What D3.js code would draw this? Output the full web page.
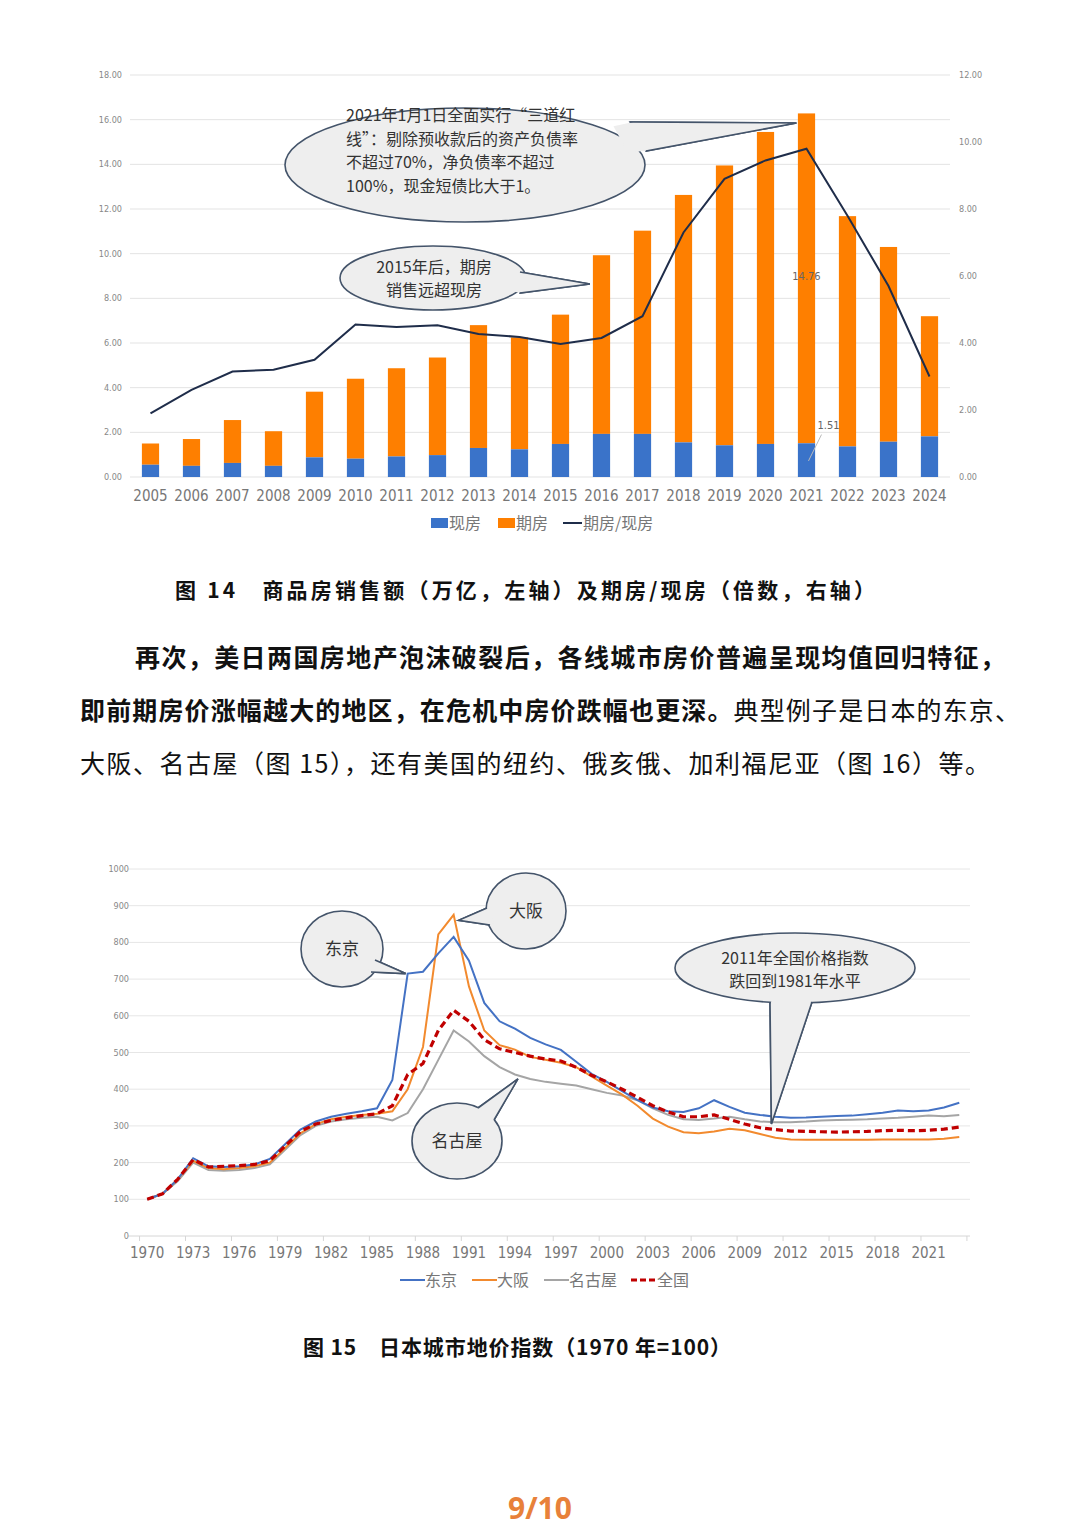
<!DOCTYPE html>
<html><head><meta charset="utf-8">
<script src="https://cdn.jsdelivr.net/npm/d3@7"></script>
<style>body{margin:0;background:#fff}svg{display:block}</style>
</head><body>
<div id="page"></div>
<script>
// chart 14
var years1 = ["2005","2006","2007","2008","2009","2010","2011","2012","2013","2014","2015","2016","2017","2018","2019","2020","2021","2022","2023","2024"];
var spot = [55,50,63,50,88,82,92,98,130,124,148,193,193,155,142,148,151,137,158,182];
var total = [150,170,255,205,382,440,487,535,680,625,727,993,1103,1263,1395,1545,1628,1168,1030,720];
var ratio = [1.9,2.6,3.15,3.2,3.5,4.55,4.48,4.53,4.27,4.18,3.97,4.15,4.8,7.3,8.9,9.45,9.8,7.8,5.7,3.0];
var leftTicks = [0,200,400,600,800,1000,1200,1400,1600,1800];
var rightTicks = [0,2,4,6,8,10,12];

// chart 15
var years2 = d3.range(1970, 2024);
var tokyo = [100,115,155,212,190,188,190,195,210,250,290,312,325,333,340,348,425,715,720,770,815,750,635,585,565,540,522,507,475,442,420,395,370,350,340,338,348,370,352,336,330,325,322,323,325,327,328,332,336,342,340,342,350,363];
var osaka = [100,115,155,205,185,182,185,190,200,240,280,305,318,325,330,333,340,400,515,822,875,680,560,520,508,488,480,472,460,435,410,385,355,320,298,283,280,285,292,288,278,268,263,262,262,262,262,262,263,263,263,263,265,270];
var nagoya = [100,115,150,200,180,178,180,185,195,235,275,300,312,318,322,325,315,335,400,480,560,530,490,460,440,428,420,415,410,400,390,383,370,348,330,318,316,320,325,318,312,310,310,312,315,316,317,318,320,322,325,328,326,330,338,348].slice(0,54);
var nation = [100,115,155,208,188,190,192,195,205,245,285,305,315,322,328,333,355,440,470,560,615,585,535,510,500,490,482,477,460,438,420,400,378,355,338,325,325,330,318,305,295,290,286,285,284,283,284,285,287,288,287,288,291,297];
var xTicks2 = d3.range(1970, 2024, 3);
var yTicks2 = d3.range(0, 1001, 100);

var W = 1080, H = 1528;
var font = "'Noto Sans CJK SC', 'Noto Sans', sans-serif";
var narrow = "'Liberation Sans Narrow', 'DejaVu Sans Condensed', sans-serif";
var svg = d3.select("#page").append("svg").attr("width", W).attr("height", H)
    .style("font-family", font);

function callout(g, cx, cy, rx, ry, tip, baseA, baseB) {
    let tri = [baseA, tip, baseB];
    g.append("path").attr("d", d3.line()(tri) + "Z")
        .attr("fill", "#eeeeee").attr("stroke", "#44546a").attr("stroke-width", 1.6);
    g.append("ellipse").attr("cx", cx).attr("cy", cy).attr("rx", rx).attr("ry", ry)
        .attr("fill", "#eeeeee").attr("stroke", "#44546a").attr("stroke-width", 1.6);
    let mA = [baseA[0] + (tip[0] - baseA[0]) * 0.02, baseA[1] + (tip[1] - baseA[1]) * 0.02];
    let mB = [baseB[0] + (tip[0] - baseB[0]) * 0.02, baseB[1] + (tip[1] - baseB[1]) * 0.02];
    let inner = [[cx + (baseA[0] - cx) * 0.9, cy + (baseA[1] - cy) * 0.9], mA, tip, mB, [cx + (baseB[0] - cx) * 0.9, cy + (baseB[1] - cy) * 0.9]];
    g.append("path").attr("d", d3.line()(inner) + "Z").attr("fill", "#eeeeee").attr("stroke", "none");
    g.append("path").attr("d", d3.line()([baseA, tip, baseB]))
        .attr("fill", "none").attr("stroke", "#44546a").attr("stroke-width", 1.6);
}
function lines(g, x, y, arr, size, anchor, lh) {
    let t = g.append("text").attr("x", x).attr("y", y).attr("font-size", size)
        .attr("fill", "#333").attr("text-anchor", anchor || "start");
    arr.forEach((s, i) => t.append("tspan").attr("x", x).attr("dy", i ? (lh || size * 1.4) : 0).text(s));
}

// ---------- chart 1 ----------
var m1 = {left: 130, right: 950, top: 75, bottom: 477};
var x1 = d3.scaleBand().domain(years1).range([m1.left, m1.right]).paddingInner(0.58).paddingOuter(0.29);
var yL = d3.scaleLinear().domain([0, 1800]).range([m1.bottom, m1.top]);
var yR = d3.scaleLinear().domain([0, 12]).range([m1.bottom, m1.top]);
var c1 = svg.append("g");

c1.selectAll(".g1").data(leftTicks).enter().append("line")
    .attr("x1", m1.left).attr("x2", m1.right).attr("y1", d => yL(d)).attr("y2", d => yL(d))
    .attr("stroke", "#e3e3e3");
c1.selectAll(".lt").data(leftTicks).enter().append("text")
    .attr("x", 122).attr("y", d => yL(d) + 3).attr("text-anchor", "end")
    .attr("font-size", 9).attr("fill", "#888").attr("font-family", narrow)
    .text(d => (d / 100).toFixed(2));
c1.selectAll(".rt").data(rightTicks).enter().append("text")
    .attr("x", 959).attr("y", d => yR(d) + 3)
    .attr("font-size", 9).attr("fill", "#888").attr("font-family", narrow)
    .text(d => d.toFixed(2));

c1.selectAll(".bo").data(years1).enter().append("rect")
    .attr("x", d => x1(d)).attr("width", x1.bandwidth())
    .attr("y", (d, i) => yL(total[i])).attr("height", (d, i) => yL(spot[i]) - yL(total[i]))
    .attr("fill", "#fe7f00");
c1.selectAll(".bb").data(years1).enter().append("rect")
    .attr("x", d => x1(d)).attr("width", x1.bandwidth())
    .attr("y", (d, i) => yL(spot[i])).attr("height", (d, i) => m1.bottom - yL(spot[i]))
    .attr("fill", "#3a73c9");

var line1 = d3.line().x((d, i) => x1(years1[i]) + x1.bandwidth() / 2).y(d => yR(d));
c1.append("path").datum(ratio).attr("d", line1).attr("fill", "none")
    .attr("stroke", "#1f2d4a").attr("stroke-width", 2);

c1.selectAll(".xl").data(years1).enter().append("text")
    .attr("x", d => x1(d) + x1.bandwidth() / 2).attr("y", 501).attr("text-anchor", "middle")
    .attr("font-size", 15).attr("fill", "#777").attr("font-family", narrow)
    .text(d => d);

var cx21 = x1("2021") + x1.bandwidth() / 2;
c1.append("text").attr("x", cx21).attr("y", yL(880)).attr("text-anchor", "middle")
    .attr("font-size", 11).attr("fill", "#666").attr("font-family", narrow).text("14.76");
c1.append("line").attr("x1", cx21 + 2).attr("y1", yL(72)).attr("x2", cx21 + 15).attr("y2", yL(190)).attr("stroke", "#bbb");
c1.append("text").attr("x", cx21 + 22).attr("y", yL(215)).attr("text-anchor", "middle")
    .attr("font-size", 11).attr("fill", "#666").attr("font-family", narrow).text("1.51");

callout(c1, 465, 165, 180, 57, [cx21 - 10, yL(1585)], [630, 122], [646, 151]);
lines(c1, 346, 121, ["2021年1月1日全面实行“三道红", "线”：剔除预收款后的资产负债率", "不超过70%，净负债率不超过", "100%，现金短债比大于1。"], 16, "start", 23.5);
callout(c1, 433, 278, 93, 32, [x1("2016") - 3, 284], [520, 272], [520, 293]);
lines(c1, 434, 273, ["2015年后，期房", "销售远超现房"], 16, "middle", 23);

var lg1 = c1.append("g");
lg1.append("rect").attr("x", 431).attr("y", 518).attr("width", 17).attr("height", 10).attr("fill", "#3a73c9");
lg1.append("text").attr("x", 449).attr("y", 529).attr("font-size", 16).attr("fill", "#777").text("现房");
lg1.append("rect").attr("x", 498).attr("y", 518).attr("width", 17).attr("height", 10).attr("fill", "#fe7f00");
lg1.append("text").attr("x", 516).attr("y", 529).attr("font-size", 16).attr("fill", "#777").text("期房");
lg1.append("line").attr("x1", 563).attr("x2", 582).attr("y1", 523).attr("y2", 523).attr("stroke", "#1f2d4a").attr("stroke-width", 2);
lg1.append("text").attr("x", 583).attr("y", 529).attr("font-size", 16).attr("fill", "#777").text("期房/现房");

svg.append("text").attr("x", 175).attr("y", 598)
    .attr("font-size", 21).attr("font-weight", "bold").attr("fill", "#111")
    .attr("textLength", 700).attr("lengthAdjust", "spacing")
    .text("图 14　商品房销售额（万亿，左轴）及期房/现房（倍数，右轴）");

// ---------- paragraph ----------
var para = svg.append("g").attr("font-size", 25).attr("fill", "#111");
para.append("text").attr("x", 135).attr("y", 667).attr("font-weight", "bold")
    .attr("textLength", 870).attr("lengthAdjust", "spacing")
    .text("再次，美日两国房地产泡沫破裂后，各线城市房价普遍呈现均值回归特征，");
var p2 = para.append("text").attr("x", 80).attr("y", 720).attr("textLength", 940).attr("lengthAdjust", "spacing");
p2.append("tspan").attr("font-weight", "bold").text("即前期房价涨幅越大的地区，在危机中房价跌幅也更深。");
p2.append("tspan").text("典型例子是日本的东京、");
para.append("text").attr("x", 80).attr("y", 773).attr("textLength", 910).attr("lengthAdjust", "spacing")
    .text("大阪、名古屋（图 15），还有美国的纽约、俄亥俄、加利福尼亚（图 16）等。");

// ---------- chart 2 ----------
var m2 = {left: 138, right: 970, top: 869, bottom: 1236};
var x2 = d3.scaleLinear().domain([1969.4, 2023.7]).range([m2.left, m2.right]);
var y2 = d3.scaleLinear().domain([0, 1000]).range([m2.bottom, m2.top]);
var c2 = svg.append("g");
c2.selectAll(".g2").data(yTicks2.slice(1)).enter().append("line")
    .attr("x1", m2.left - 10).attr("x2", m2.right).attr("y1", d => y2(d)).attr("y2", d => y2(d))
    .attr("stroke", "#e6e6e6");
c2.append("line").attr("x1", m2.left - 10).attr("x2", m2.right).attr("y1", m2.bottom).attr("y2", m2.bottom).attr("stroke", "#d6d6d6");
c2.selectAll(".yt").data(yTicks2).enter().append("text")
    .attr("x", 129).attr("y", d => y2(d) + 3).attr("text-anchor", "end")
    .attr("font-size", 9).attr("fill", "#888").attr("font-family", narrow).text(d => d);
c2.selectAll(".xt").data(xTicks2).enter().append("text")
    .attr("x", d => x2(d)).attr("y", 1258).attr("text-anchor", "middle")
    .attr("font-size", 15).attr("fill", "#777").attr("font-family", narrow).text(d => d);
c2.selectAll(".xk").data(d3.range(1969.5, 2024, 3)).enter().append("line")
    .attr("x1", d => x2(d)).attr("x2", d => x2(d)).attr("y1", m2.bottom).attr("y2", m2.bottom + 5).attr("stroke", "#d6d6d6");

var line2 = d3.line().x((d, i) => x2(years2[i])).y(d => y2(d));
[[nagoya, "#a5a5a5", 2, null], [osaka, "#f28a2e", 2, null], [tokyo, "#4472c4", 2, null], [nation, "#c00000", 3.2, "7,4"]]
    .forEach(s => {
        c2.append("path").datum(s[0]).attr("d", line2).attr("fill", "none")
            .attr("stroke", s[1]).attr("stroke-width", s[2]).attr("stroke-dasharray", s[3]);
    });

callout(c2, 342, 949, 41, 38, [x2(1987) - 2, y2(715)], [375, 960], [371, 972]);
lines(c2, 342, 955, ["东京"], 17, "middle");
callout(c2, 526, 911, 40, 38, [x2(1990) + 5, y2(860)], [487, 908], [490, 925]);
lines(c2, 526, 917, ["大阪"], 17, "middle");
callout(c2, 457, 1141, 45, 38, [x2(1994) + 3, y2(428)], [478, 1108], [494, 1120]);
lines(c2, 457, 1147, ["名古屋"], 17, "middle");
callout(c2, 795, 968, 120, 35, [x2(2011) - 4, y2(305)], [770, 1002], [812, 1002]);
lines(c2, 795, 964, ["2011年全国价格指数", "跌回到1981年水平"], 16, "middle", 23);

var lg2 = c2.append("g").attr("font-size", 16).attr("fill", "#777");
lg2.append("line").attr("x1", 400).attr("x2", 425).attr("y1", 1280).attr("y2", 1280).attr("stroke", "#4472c4").attr("stroke-width", 2);
lg2.append("text").attr("x", 425).attr("y", 1286).text("东京");
lg2.append("line").attr("x1", 472).attr("x2", 497).attr("y1", 1280).attr("y2", 1280).attr("stroke", "#f28a2e").attr("stroke-width", 2);
lg2.append("text").attr("x", 497).attr("y", 1286).text("大阪");
lg2.append("line").attr("x1", 544).attr("x2", 569).attr("y1", 1280).attr("y2", 1280).attr("stroke", "#a5a5a5").attr("stroke-width", 2);
lg2.append("text").attr("x", 569).attr("y", 1286).text("名古屋");
lg2.append("line").attr("x1", 631).attr("x2", 656).attr("y1", 1280).attr("y2", 1280).attr("stroke", "#c00000").attr("stroke-width", 3.2).attr("stroke-dasharray", "6,3");
lg2.append("text").attr("x", 657).attr("y", 1286).text("全国");

svg.append("text").attr("x", 303).attr("y", 1355)
    .attr("font-size", 21).attr("font-weight", "bold").attr("fill", "#111")
    .attr("textLength", 428).attr("lengthAdjust", "spacing")
    .text("图 15　日本城市地价指数（1970 年=100）");

svg.append("text").attr("x", 540).attr("y", 1519).attr("text-anchor", "middle")
    .attr("font-size", 30).attr("font-weight", "bold").attr("fill", "#e8813a").attr("font-family", "'Open Sans', sans-serif")
    .text("9/10");
</script>
</body></html>
